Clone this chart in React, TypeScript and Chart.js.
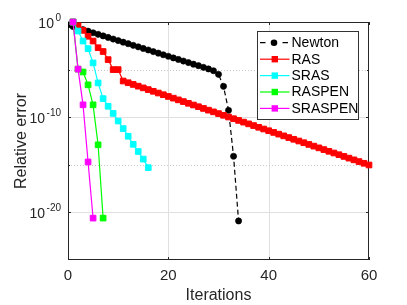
import React, { useEffect, useRef } from "react";
import { Chart, registerables } from "chart.js";

Chart.register(...registerables);

// ---- data (log10 of relative error) ----
const seriesNames = ["Newton", "RAS", "SRAS", "RASPEN", "SRASPEN"];
const seriesColors = ["#000000", "#ff0000", "#00ffff", "#00ff00", "#ff00ff"];

const newtonFirstIteration = 0;
const newtonLog10 = [
  -0.3, -0.47, -0.63, -0.8, -0.96, -1.13, -1.29, -1.46, -1.62, -1.79,
  -1.95, -2.12, -2.28, -2.45, -2.61, -2.78, -2.94, -3.11, -3.27, -3.44,
  -3.6, -3.77, -3.93, -4.1, -4.26, -4.43, -4.59, -4.76, -4.93, -5.12,
  -5.5, -6.76, -9.28, -14.1, -20.9,
];

const rasFirstIteration = 1;
const rasLog10 = [
  0, -0.4, -0.88, -1.5, -2.0, -2.7, -3.1, -3.95, -5.0, -5.0,
  -6.2, -6.38, -6.56, -6.74, -6.92, -7.1, -7.28, -7.46, -7.64, -7.82,
  -8.0, -8.18, -8.36, -8.54, -8.72, -8.9, -9.08, -9.26, -9.44, -9.62,
  -9.8, -9.98, -10.16, -10.34, -10.52, -10.7, -10.88, -11.06, -11.24, -11.42,
  -11.6, -11.78, -11.96, -12.14, -12.32, -12.5, -12.68, -12.86, -13.04, -13.22,
  -13.4, -13.58, -13.76, -13.94, -14.12, -14.3, -14.48, -14.66, -14.84, -15.02,
];

const srasFirstIteration = 1;
const srasLog10 = [
  0, -0.95, -2.0, -2.8, -4.3, -6.4, -8.05, -8.85, -9.6, -10.4,
  -11.2, -12.0, -12.85, -13.6, -14.4, -15.3,
];

const raspenFirstIteration = 1;
const raspenLog10 = [0, -4.95, -5.25, -6.6, -8.7, -12.9, -20.6];

const sraspenFirstIteration = 1;
const sraspenLog10 = [0, -4.95, -8.7, -14.7, -20.6];

// ---- axes ----
const xTicks = [0, 20, 40, 60];
const xGridValues = [20, 40];
const yMajorExponents = [0, -10, -20];
const yMinorExponents = [-5, -15];
const yMinExponent = -25;
const yMaxExponent = 0;
const xLabel = "Iterations";
const yLabel = "Relative error";

const FONT = '"Liberation Sans", Arial, Helvetica, sans-serif';
const AXIS_COLOR = "#262626";

function toPoints(first: number, logs: number[]) {
  return logs.map((v, i) => ({ x: first + i, y: Math.pow(10, v) }));
}

const matlabAxes = {
  id: "matlabAxes",
  beforeDatasetsDraw(chart: any) {
    const { ctx, chartArea } = chart;
    const { left, right, top, bottom } = chartArea;
    const xs = chart.scales.x;
    const ys = chart.scales.y;
    ctx.save();
    // grid
    ctx.lineWidth = 1;
    ctx.strokeStyle = "#e0e0e0";
    ctx.setLineDash([]);
    xGridValues.forEach((v) => {
      const px = Math.round(xs.getPixelForValue(v)) + 0.5;
      ctx.beginPath();
      ctx.moveTo(px, top);
      ctx.lineTo(px, bottom);
      ctx.stroke();
    });
    yMajorExponents.forEach((e) => {
      const py = Math.round(ys.getPixelForValue(Math.pow(10, e))) + 0.5;
      ctx.beginPath();
      ctx.moveTo(left, py);
      ctx.lineTo(right, py);
      ctx.stroke();
    });
    ctx.strokeStyle = "#c8c8c8";
    ctx.setLineDash([1, 2]);
    yMinorExponents.forEach((e) => {
      const py = Math.round(ys.getPixelForValue(Math.pow(10, e))) + 0.5;
      ctx.beginPath();
      ctx.moveTo(left, py);
      ctx.lineTo(right, py);
      ctx.stroke();
    });
    ctx.setLineDash([]);
    // frame
    ctx.strokeStyle = AXIS_COLOR;
    ctx.strokeRect(left + 0.5, top + 0.5, right - left - 1, bottom - top - 1);
    // ticks
    const tl = 3;
    ctx.beginPath();
    xTicks.forEach((v) => {
      const px = Math.round(xs.getPixelForValue(v)) + 0.5;
      ctx.moveTo(px, bottom);
      ctx.lineTo(px, bottom - tl);
      ctx.moveTo(px, top);
      ctx.lineTo(px, top + tl);
    });
    yMajorExponents.forEach((e) => {
      const py = Math.round(ys.getPixelForValue(Math.pow(10, e))) + 0.5;
      ctx.moveTo(left, py);
      ctx.lineTo(left + tl, py);
      ctx.moveTo(right, py);
      ctx.lineTo(right - tl, py);
    });
    yMinorExponents.forEach((e) => {
      const py = Math.round(ys.getPixelForValue(Math.pow(10, e))) + 0.5;
      ctx.moveTo(left, py);
      ctx.lineTo(left + 2, py);
      ctx.moveTo(right, py);
      ctx.lineTo(right - 2, py);
    });
    ctx.stroke();
    ctx.restore();
  },
  afterDraw(chart: any) {
    const { ctx, chartArea } = chart;
    const { left, right, top, bottom } = chartArea;
    const xs = chart.scales.x;
    const ys = chart.scales.y;
    ctx.save();
    ctx.fillStyle = AXIS_COLOR;
    // x tick labels
    ctx.font = `15px ${FONT}`;
    ctx.textAlign = "center";
    ctx.textBaseline = "middle";
    xTicks.forEach((v) => {
      ctx.fillText(String(v), xs.getPixelForValue(v), bottom + 16);
    });
    // x title
    ctx.font = `16px ${FONT}`;
    ctx.textBaseline = "alphabetic";
    ctx.fillText(xLabel, (left + right) / 2, 300);
    // y tick labels 10^e
    yMajorExponents.forEach((e) => {
      const py = ys.getPixelForValue(Math.pow(10, e));
      const base = "10";
      const sup = String(e);
      ctx.font = `10px ${FONT}`;
      const ws = ctx.measureText(sup).width;
      ctx.font = `14px ${FONT}`;
      const wb = ctx.measureText(base).width;
      const rightX = left - 7;
      ctx.textAlign = "left";
      ctx.fillText(base, rightX - ws - 1.5 - wb, py + 6);
      ctx.font = `10px ${FONT}`;
      ctx.fillText(sup, rightX - ws, py - 1.5);
    });
    // y title
    ctx.save();
    ctx.translate(26, (top + bottom) / 2);
    ctx.rotate(-Math.PI / 2);
    ctx.textAlign = "center";
    ctx.font = `16px ${FONT}`;
    ctx.fillText(yLabel, 0, 0);
    ctx.restore();

    // legend
    const bx = 257.5, by = 31.5, bw = 101, bh = 88;
    ctx.fillStyle = "#ffffff";
    ctx.fillRect(bx, by, bw, bh);
    ctx.strokeStyle = "#333333";
    ctx.lineWidth = 1;
    ctx.strokeRect(bx, by, bw, bh);
    const rowY = [42.7, 59.2, 75.6, 92, 108.4];
    seriesNames.forEach((name, i) => {
      const yy = rowY[i];
      const col = seriesColors[i];
      ctx.strokeStyle = col;
      ctx.fillStyle = col;
      ctx.lineWidth = 1.2;
      if (i === 0) {
        ctx.beginPath();
        ctx.moveTo(260, yy);
        ctx.lineTo(265.5, yy);
        ctx.moveTo(282.5, yy);
        ctx.lineTo(288, yy);
        ctx.stroke();
        ctx.beginPath();
        ctx.arc(274, yy, 3.3, 0, Math.PI * 2);
        ctx.fill();
      } else {
        ctx.beginPath();
        ctx.moveTo(260, yy);
        ctx.lineTo(289.5, yy);
        ctx.stroke();
        ctx.fillRect(274.8 - 3.2, yy - 3.2, 6.4, 6.4);
      }
      ctx.fillStyle = "#000000";
      ctx.font = `14px ${FONT}`;
      ctx.textAlign = "left";
      ctx.textBaseline = "middle";
      ctx.fillText(name, 291.5, yy + 0.5);
    });
    ctx.restore();
  },
};

export default function App() {
  const canvasRef = useRef<HTMLCanvasElement | null>(null);

  useEffect(() => {
    const canvas = canvasRef.current;
    if (!canvas) return;
    const series = [
      toPoints(newtonFirstIteration, newtonLog10),
      toPoints(rasFirstIteration, rasLog10),
      toPoints(srasFirstIteration, srasLog10),
      toPoints(raspenFirstIteration, raspenLog10),
      toPoints(sraspenFirstIteration, sraspenLog10),
    ];
    const datasets = series.map((data, i) => ({
      label: seriesNames[i],
      data,
      borderColor: seriesColors[i],
      backgroundColor: seriesColors[i],
      borderWidth: 1.2,
      borderDash: i === 0 ? [5, 3] : [],
      pointStyle: i === 0 ? "circle" : "rect",
      pointRadius: i === 0 ? 3.1 : 4,
      pointBorderWidth: i === 0 ? 0.6 : 1,
      pointBackgroundColor: seriesColors[i],
      pointBorderColor: seriesColors[i],
      tension: 0,
      order: 4 - i,
      clip: i === 0 ? { left: 0, right: false, top: false, bottom: false } : false,
    }));
    const chart = new Chart(canvas, {
      type: "line",
      data: { datasets },
      options: {
        animation: false,
        responsive: false,
        devicePixelRatio: 1,
        layout: { padding: { left: 68, right: 38, top: 22, bottom: 45 } },
        plugins: { legend: { display: false }, tooltip: { enabled: false } },
        events: [],
        scales: {
          x: { type: "linear", min: 0, max: 60, display: false },
          y: {
            type: "logarithmic",
            min: Math.pow(10, yMinExponent),
            max: Math.pow(10, yMaxExponent),
            display: false,
          },
        },
      },
      plugins: [matlabAxes],
    } as any);
    return () => chart.destroy();
  }, []);

  return (
    <div style={{ position: "absolute", left: 0, top: 0, width: 407, height: 305, background: "#fff" }}>
      <canvas ref={canvasRef} width={407} height={305} style={{ display: "block" }} />
    </div>
  );
}
